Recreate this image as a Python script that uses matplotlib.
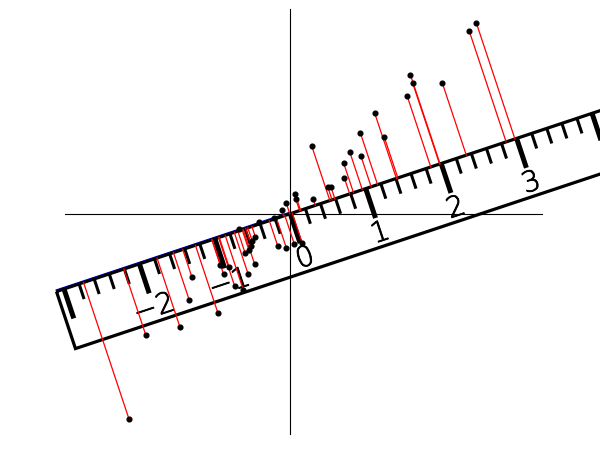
import numpy as np
import matplotlib
matplotlib.use('Agg')
import matplotlib.pyplot as plt
import matplotlib.patheffects as pe
from matplotlib.patches import Polygon

# Sample points (x, y)
x_vals = [2.34, 2.25, 1.51, 1.54, 1.91, 1.47, 1.06, 1.18, 0.88, 0.75, 0.89, 0.27,
          0.67, 0.68, 0.47, 0.51, 0.29, 0.06, 0.07, -0.05, -0.11, -0.21, -0.40,
          -0.64, -0.44, -0.48, -0.49, -0.16, -0.05, 0.05, 0.15, -0.57, -0.52,
          -0.45, -0.88, -0.53, -0.84, -0.70, -0.59, -0.77, -1.24, -1.27, -0.91,
          -1.39, -1.82, -2.03]
y_vals = [2.40, 2.30, 1.75, 1.64, 1.65, 1.48, 1.27, 0.97, 1.02, 0.77, 0.72, 0.85,
          0.64, 0.45, 0.34, 0.34, 0.18, 0.25, 0.18, 0.13, 0.05, -0.06, -0.10,
          -0.19, -0.29, -0.34, -0.40, -0.40, -0.43, -0.38, -0.37, -0.49, -0.46,
          -0.63, -0.65, -0.76, -0.76, -0.91, -0.96, -0.67, -0.79, -1.09, -1.25,
          -1.42, -1.52, -2.58]

# Ruler along the principal direction
angle_deg = 18.4
ruler_start, ruler_end = -3.1, 4.6
ruler_width = 0.757
tick_step = 0.2
label_values = [-2, -1, 0, 1, 2, 3]

# axis lines
xaxis_range = [-2.83, 3.16]
yaxis_range = [-2.77, 2.58]

theta = np.deg2rad(angle_deg)
u = np.array([np.cos(theta), np.sin(theta)])
n = np.array([np.sin(theta), -np.cos(theta)])  # points "down" across the ruler

px_per_unit = 79.5
fig = plt.figure(figsize=(6, 4.52), dpi=100)
ax = fig.add_axes([0, 0, 1, 1])
ax.set_xlim(-290.3 / px_per_unit, 309.7 / px_per_unit)
ax.set_ylim(-237.3 / px_per_unit, 214.7 / px_per_unit)
ax.axis('off')

ax.plot(xaxis_range, [0, 0], color='black', lw=0.8, zorder=1)
ax.plot([0, 0], yaxis_range, color='black', lw=0.8, zorder=1)

# ruler outline
corners = [ruler_start * u, ruler_end * u,
           ruler_end * u + ruler_width * n, ruler_start * u + ruler_width * n]
ax.add_patch(Polygon(corners, closed=True, fill=False, ec='black', lw=2.3,
                     joinstyle='miter', zorder=3))
blue_a = ruler_start * u - 0.02 * n
blue_b = 0.0 * u - 0.02 * n
ax.plot([blue_a[0], blue_b[0]], [blue_a[1], blue_b[1]], color='blue', lw=0.8, zorder=2)

# ticks
for t in np.arange(-3.0, ruler_end, tick_step):
    major = abs(t - round(t)) < 1e-6
    length = 0.39 if major else 0.2
    p0 = t * u
    p1 = t * u + length * n
    ax.plot([p0[0], p1[0]], [p0[1], p1[1]], color='black',
            lw=3.6 if major else 2.2, solid_capstyle='butt', zorder=3)

for k in label_values:
    pos = k * u + 0.59 * n
    ax.text(pos[0], pos[1], str(k).replace('-', '\u2212'), fontsize=20.5,
            fontweight='light', rotation=angle_deg, rotation_mode='anchor',
            ha='center', va='center', zorder=4,
            path_effects=[pe.withStroke(linewidth=0.6, foreground='black')])

# projections onto the ruler
pts = np.column_stack([x_vals, y_vals])
for p in pts:
    foot = (p @ u) * u
    ax.plot([p[0], foot[0]], [p[1], foot[1]], color='red', lw=0.9, zorder=5)
ax.plot(x_vals, y_vals, 'o', color='black', ms=3.4, zorder=6)

fig.savefig('out.png', dpi=100)
